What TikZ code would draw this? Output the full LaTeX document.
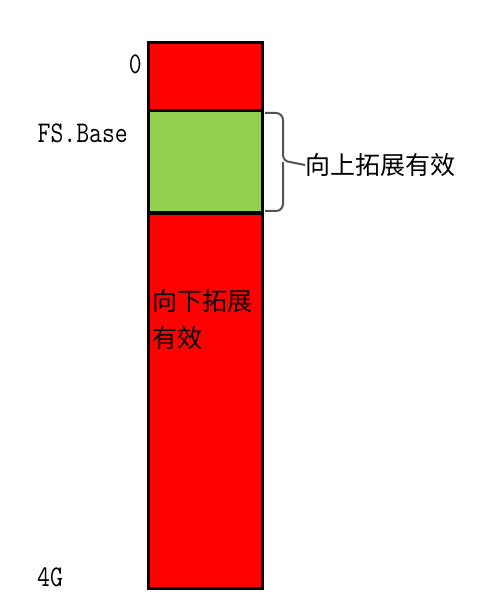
\documentclass[tikz,border=0pt]{standalone}
\usepackage{fontspec}
\newfontfamily\cjk{Noto Sans CJK SC}
\newfontfamily\monof{Latin Modern Mono}
\definecolor{segred}{HTML}{FF0000}
\definecolor{seggreen}{HTML}{92D050}
\definecolor{bracegray}{HTML}{555555}
\begin{document}
\begin{tikzpicture}[x=1pt,y=-1pt,
  seg/.style={draw=black,line width=3pt},
  monolabel/.style={inner sep=0pt,font=\monof\fontsize{25}{25}\selectfont},
  cjklabel/.style={inner sep=0pt,font=\cjk\fontsize{25}{25}\selectfont},
  bracepath/.style={draw=bracegray,line width=2pt,rounded corners=7pt}]
\useasboundingbox (0,0) rectangle (481,612);
\fill[white] (0,0) rectangle (481,612);
% segments
\path[seg,fill=segred] (148,43) rectangle (262,111);
\path[seg,fill=seggreen] (148,111) rectangle (262,213);
\path[seg,fill=segred] (148,213) rectangle (262,588);
% labels
\node[monolabel,anchor=east] (zero) at (142,64) {\scalebox{1}[1.2]{0}};
\node[monolabel,anchor=east] (fsbase) at (128,133) {\scalebox{1}[1.2]{FS.Base}};
\node[monolabel,anchor=west] (fourg) at (37,577) {\scalebox{1}[1.2]{4G}};
% brace
\coordinate (bt) at (265,113);
\coordinate (bb) at (265,211);
\coordinate (tip) at (290,162);
\draw[bracepath] (bt) -- (283,113) -- (283,162) -- (tip);
\draw[bracepath] (bb) -- (283,211) -- (283,162);
\node[cjklabel,anchor=west] (up) at (305,165) {向上拓展有效};
\draw[draw=bracegray,line width=2pt] (tip) -- (up.west);
\node[cjklabel,anchor=north west,align=left] (down) at (152,289) {向下拓展\\[12pt]有效};
\end{tikzpicture}
\end{document}
